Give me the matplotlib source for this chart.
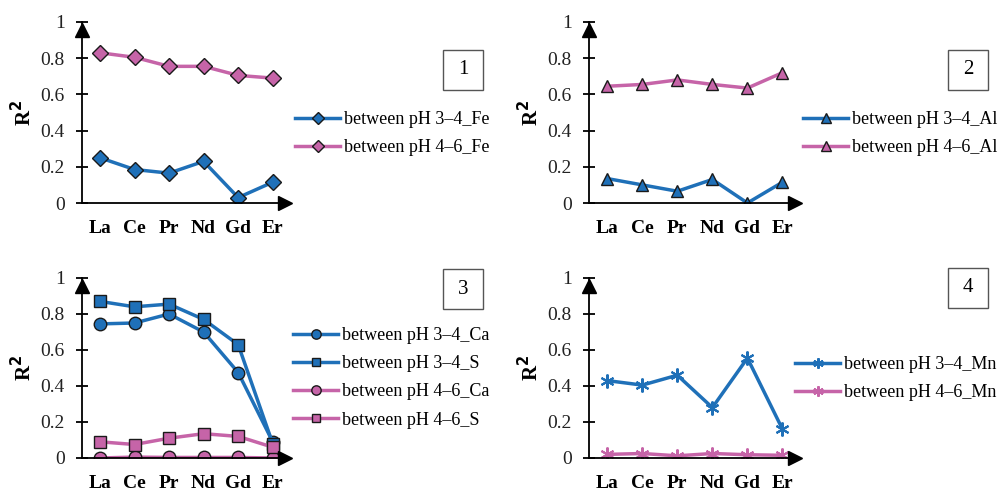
import matplotlib.pyplot as plt
from matplotlib.patches import Rectangle

plt.rcParams['font.family'] = ['Liberation Serif', 'DejaVu Serif']

elements = ['La', 'Ce', 'Pr', 'Nd', 'Gd', 'Er']
y_ticks = [0, 0.2, 0.4, 0.6, 0.8, 1]
y_tick_labels = ['0', '0.2', '0.4', '0.6', '0.8', '1']

# panel 1 - Fe
fe_34 = [0.25, 0.185, 0.165, 0.23, 0.03, 0.115]
fe_46 = [0.83, 0.805, 0.755, 0.755, 0.705, 0.69]
# panel 2 - Al
al_34 = [0.135, 0.10, 0.065, 0.13, 0.0, 0.115]
al_46 = [0.645, 0.655, 0.68, 0.655, 0.635, 0.72]
# panel 3 - Ca, S
ca_34 = [0.745, 0.75, 0.80, 0.70, 0.475, 0.09]
s_34 = [0.87, 0.84, 0.855, 0.77, 0.63, 0.08]
ca_46 = [0.0, 0.005, 0.003, 0.003, 0.003, 0.0]
s_46 = [0.09, 0.075, 0.11, 0.135, 0.12, 0.06]
# panel 4 - Mn
mn_34 = [0.43, 0.405, 0.46, 0.28, 0.555, 0.16]
mn_46 = [0.02, 0.025, 0.012, 0.025, 0.018, 0.015]

BLUE = '#1f70b8'
PINK = '#c664a8'
EDGE = '#1a1a1a'

W, H = 1006, 491
fig = plt.figure(figsize=(W / 100, H / 100), dpi=100)


def px_axes(left, top, right, bottom):
    return fig.add_axes([left / W, 1 - bottom / H, (right - left) / W, (bottom - top) / H])


def setup(ax):
    x = list(range(len(elements)))
    ax.set_xlim(-0.52, 5.5)
    ax.set_ylim(0, 1)
    ax.spines['top'].set_visible(False)
    ax.spines['right'].set_visible(False)
    ax.spines['left'].set_linewidth(1.3)
    ax.spines['bottom'].set_linewidth(1.3)
    ax.set_yticks(y_ticks)
    ax.set_yticklabels(y_tick_labels, fontsize=14, color='#222222')
    ax.set_xticks(x)
    ax.set_xticklabels(elements, fontsize=14, fontweight='bold')
    ax.tick_params(axis='y', direction='inout', length=9, width=1.3, pad=8)
    ax.tick_params(axis='x', length=0, pad=12)
    ax.set_ylabel('R$^\\mathbf{2}$', fontsize=15, fontweight='bold', labelpad=3)
    ax.patch.set_visible(False)
    # arrow heads
    ax.plot([0], [0.955], marker='^', color='black', markersize=10, transform=ax.transAxes, clip_on=False)
    ax.plot([0.975], [0], marker='>', color='black', markersize=10, transform=ax.transAxes, clip_on=False)


def add_legend(ax, x, y):
    ax.legend(loc='upper left', bbox_to_anchor=(x / W, 1 - y / H), bbox_transform=fig.transFigure,
              frameon=False, fontsize=13, handlelength=2.5, handletextpad=0.2, labelspacing=0.62,
              borderaxespad=0, borderpad=0, markerscale=0.75)


def add_box(label, left, top):
    fig.patches.append(Rectangle((left / W, 1 - (top + 40) / H), 40 / W, 40 / H,
                                 transform=fig.transFigure, fill=False, edgecolor='#555555', linewidth=1))
    fig.text((left + 20) / W, 1 - (top + 20) / H, label, ha='center', va='center', fontsize=15)


x = list(range(len(elements)))

# panel 1
ax1 = px_axes(82, 22, 290, 203)
ax1.plot(x, fe_34, color=BLUE, lw=2.5, marker='D', markersize=8, mfc=BLUE, mec=EDGE, mew=1,
         label='between pH 3\u20134_Fe')
ax1.plot(x, fe_46, color=PINK, lw=2.5, marker='D', markersize=8, mfc=PINK, mec=EDGE, mew=1,
         label='between pH 4\u20136_Fe')
setup(ax1)
add_legend(ax1, 295, 111)
add_box('1', 443, 50)

# panel 2
ax2 = px_axes(589, 22, 800, 203)
ax2.plot(x, al_34, color=BLUE, lw=2.5, marker='^', markersize=9, mfc=BLUE, mec=EDGE, mew=1,
         label='between pH 3\u20134_Al')
ax2.plot(x, al_46, color=PINK, lw=2.5, marker='^', markersize=9, mfc=PINK, mec=EDGE, mew=1,
         label='between pH 4\u20136_Al')
setup(ax2)
add_legend(ax2, 803, 111)
add_box('2', 948, 50)

# panel 3
ax3 = px_axes(82, 278, 290, 458)
ax3.plot(x, ca_34, color=BLUE, lw=2.5, marker='o', markersize=9, mfc=BLUE, mec=EDGE, mew=1,
         label='between pH 3\u20134_Ca')
ax3.plot(x, s_34, color=BLUE, lw=2.5, marker='s', markersize=8.5, mfc=BLUE, mec=EDGE, mew=1,
         label='between pH 3\u20134_S')
ax3.plot(x, ca_46, color=PINK, lw=2.5, marker='o', markersize=9, mfc=PINK, mec=EDGE, mew=1,
         label='between pH 4\u20136_Ca')
ax3.plot(x, s_46, color=PINK, lw=2.5, marker='s', markersize=8.5, mfc=PINK, mec=EDGE, mew=1,
         label='between pH 4\u20136_S')
setup(ax3)
add_legend(ax3, 293, 327)
add_box('3', 443, 269)

# panel 4
ax4 = px_axes(589, 278, 800, 458)
star = (6, 2, 0)
ax4.plot(x, mn_34, color=BLUE, lw=2.5, marker=star, markersize=10, mec=BLUE, mew=1.5,
         label='between pH 3\u20134_Mn')
ax4.plot(x, mn_46, color=PINK, lw=2.5, marker=star, markersize=10, mec=PINK, mew=1.5,
         label='between pH 4\u20136_Mn')
setup(ax4)
add_legend(ax4, 795, 356)
add_box('4', 948, 268)

fig.savefig('out.png', dpi=100)
